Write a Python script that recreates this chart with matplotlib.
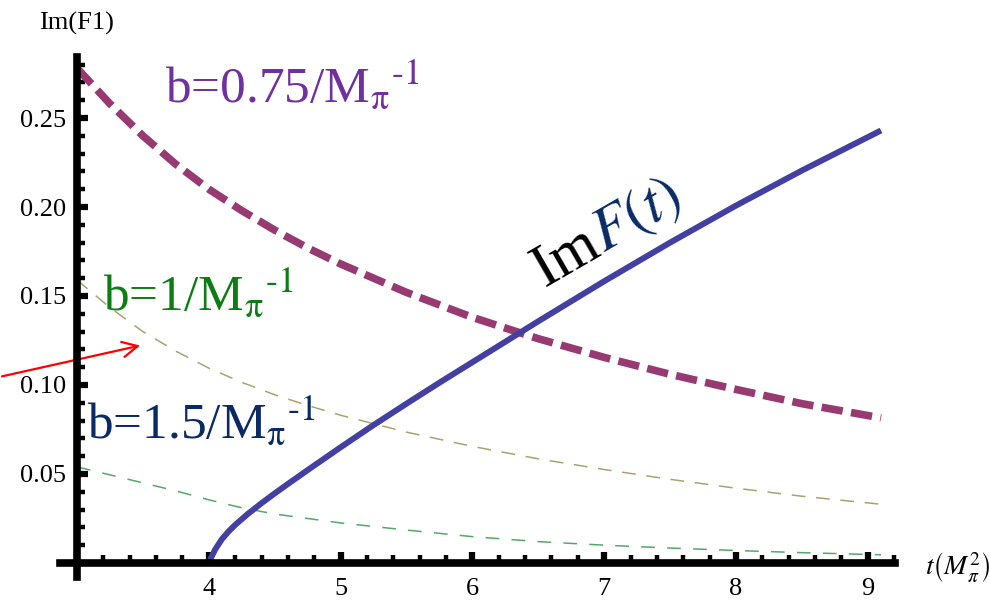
import math
import matplotlib
matplotlib.use("Agg")
import matplotlib.pyplot as plt
import matplotlib.transforms as mtransforms
from matplotlib.ticker import FixedLocator

plt.rcParams["font.family"] = ["Liberation Serif", "DejaVu Serif"]
plt.rcParams["mathtext.fontset"] = "stix"

# t values shared by the three b-curves
t_b = [3.0, 3.25, 3.5, 3.75, 4.0, 4.25, 4.5, 4.75, 5.0, 5.5, 6.0, 6.5, 7.0, 7.5,
       8.0, 8.5, 9.1]
b075 = [0.278, 0.258, 0.240, 0.224, 0.210, 0.198, 0.187, 0.177, 0.168, 0.152,
        0.138, 0.126, 0.1155, 0.106, 0.0975, 0.0895, 0.0815]
b100 = [0.159, 0.1435, 0.130, 0.119, 0.1095, 0.1015, 0.0945, 0.0885, 0.083,
        0.0735, 0.0655, 0.0585, 0.0525, 0.047, 0.042, 0.0375, 0.033]
b150 = [0.054, 0.0495, 0.045, 0.0405, 0.0355, 0.031, 0.0275, 0.025, 0.0225,
        0.0185, 0.0148, 0.012, 0.010, 0.0084, 0.007, 0.0058, 0.0046]

# ImF(t), opens at threshold t = 4
t_imf = [4.0, 4.02, 4.05, 4.1, 4.15, 4.2, 4.3, 4.4, 4.5, 4.6, 4.75, 5.0, 5.25,
         5.5, 5.75, 6.0, 6.5, 7.0, 7.5, 8.0, 8.5, 9.1]
imf = [0.0, 0.0034, 0.0078, 0.01345, 0.0177, 0.0214, 0.0278, 0.0336, 0.0391,
       0.0444, 0.0522, 0.065, 0.0775, 0.0895, 0.1013, 0.1128, 0.1358, 0.1583,
       0.180, 0.2008, 0.2205, 0.243]

x_major = [4, 5, 6, 7, 8, 9]
y_major = [0.05, 0.10, 0.15, 0.20, 0.25]
y_labels = ["0.05", "0.10", "0.15", "0.20", "0.25"]

fig = plt.figure(figsize=(9.9, 6), dpi=100)
ax = fig.add_axes([0, 0, 1, 1])
ax.set_xlim(2.4158, 9.927)
ax.set_ylim(-0.0208, 0.3163)
ax.patch.set_alpha(0)

ax.plot(t_b, b075, color="#983a72", lw=5.5, ls=(0, (2.8, 1.1)))
ax.plot(t_b, b100, color="#ada070", lw=1.1, ls=(0, (9, 7)))
ax.plot(t_b, b150, color="#55a865", lw=1.1, ls=(0, (9, 8)))
ax.plot(t_imf, imf, color="#4440a2", lw=4.3, solid_capstyle="butt")

# axes crossing at (3, 0)
for s in ("top", "right"):
    ax.spines[s].set_visible(False)
ax.spines["left"].set_position(("data", 3))
ax.spines["bottom"].set_position(("data", 0))
ax.spines["left"].set_bounds(-0.008, 0.284)
ax.spines["bottom"].set_bounds(2.87, 9.21)
for s in ("left", "bottom"):
    ax.spines[s].set_linewidth(5.5)
    ax.spines[s].set_zorder(5)

ax.set_xticks(x_major)
ax.set_xticklabels([str(v) for v in x_major])
ax.xaxis.set_minor_locator(FixedLocator([3.2 + 0.2 * i for i in range(31) if (i + 1) % 5 != 0]))
ax.set_yticks(y_major)
ax.set_yticklabels(y_labels)
ax.yaxis.set_minor_locator(FixedLocator([0.01 * i for i in range(1, 29) if i % 5 != 0]))

ax.tick_params(which="major", direction="in", length=8, width=4.5, labelsize=19, color="black")
ax.tick_params(which="minor", direction="in", length=6, width=3.2, color="black")
ax.tick_params(axis="x", which="major", pad=11)
ax.tick_params(axis="y", which="major", pad=8)

ax.text(3.0, 0.303, "Im(F1)", fontsize=19, ha="center", va="center")
ax.text(9.434, -0.003, r"$t\left(M_\pi^2\right)$", fontsize=20, ha="left", va="center")

sub = r"$_{\text{π}}{}^{\text{-1}}$"
ax.text(3.668, 0.259, "b=0.75/M" + sub, fontsize=37, color="#7030a0",
        ha="left", va="baseline")
ax.text(3.197, 0.142, "b=1/M" + sub, fontsize=37, color="#0b7d12",
        ha="left", va="baseline")
ax.text(3.076, 0.0702, "b=1.5/M" + sub, fontsize=37, color="#0a2a66",
        ha="left", va="baseline")

# rotated curve label: upright "Im" then italic F(t) in navy
ang = 30
lx, ly = 6.55, 0.155
ax.text(lx, ly, "Im", fontsize=44, color="black", rotation=ang,
        rotation_mode="anchor", ha="left", va="baseline")
w_in = (0.333 + 0.778) * 44 / 72.0
off = mtransforms.offset_copy(ax.transData, fig=fig,
                              x=w_in * math.cos(math.radians(ang)),
                              y=w_in * math.sin(math.radians(ang)), units="inches")
ax.text(lx, ly, r"$F(t)$", fontsize=44, color="#0a2a66", rotation=ang,
        rotation_mode="anchor", ha="left", va="baseline", transform=off)

ax.annotate("", xy=(3.50, 0.1225), xytext=(2.41, 0.1045),
            arrowprops=dict(arrowstyle="->,head_length=1.1,head_width=0.55",
                            color="red", lw=1.6))

fig.savefig("out.png", dpi=100)
